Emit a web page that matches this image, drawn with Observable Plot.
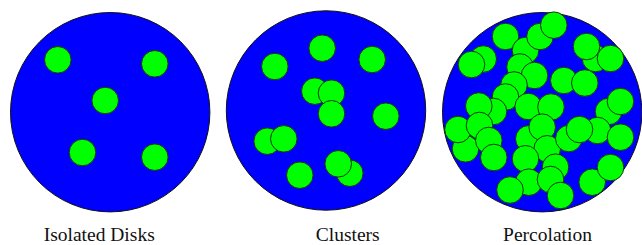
<!DOCTYPE html>
<html>
<head>
<meta charset="utf-8">
<script src="https://cdn.jsdelivr.net/npm/d3@7"></script>
<script src="https://cdn.jsdelivr.net/npm/@observablehq/plot@0.6"></script>
<style>
  html, body { margin: 0; padding: 0; background: #fff; }
  #chart svg { display: block; }
  #chart svg text { font-family: "Liberation Serif", "Times New Roman", serif !important; }
</style>
</head>
<body>
<div id="chart"></div>
<script>
// Panels (large host circles)
const panelNames = ["Isolated Disks", "Clusters", "Percolation"];
const panelX = [109.7, 325.5, 541.7];
const panelY = [111.7, 110, 111.7];
const labelX = [98.7, 347.2, 547];
const labelY = [240, 240, 240];

// Green disks, in drawing order (later ones on top)
const isolatedX = [57.3, 154.3, 104.7, 82, 154.3];
const isolatedY = [59.3, 63.3, 100, 152, 156.7];

const clustersX = [274.3, 321.7, 371.7, 314.3, 331, 331, 385.3, 266.7, 283.3, 299.3, 349.3, 337.7];
const clustersY = [66, 47.7, 59, 90.7, 92.7, 113.3, 115.7, 140.7, 138.3, 174.7, 172.7, 163.3];

const percolationX = [482.7, 471, 505, 525, 539.5, 553.3, 519.5, 534, 513.5, 505, 493, 478.3, 527.7, 550.5, 563.3, 584.3, 595, 586, 610, 608, 620,
  465, 457.5, 479, 488.3, 493.3, 528.3, 541.7, 546.7, 525, 568.3, 597, 579, 620, 555, 528.3, 550, 560, 509.5, 591.7, 610];
const percolationY = [58.5, 64, 36, 50, 36, 24.7, 66.5, 75, 84.5, 96.5, 111, 105.5, 106, 106.5, 80, 82.5, 58, 46, 58, 111, 101,
  148.3, 129, 125, 140, 157, 138.3, 126.7, 148.3, 158.3, 138, 130, 129, 136.7, 166.7, 181.7, 179, 195, 189.5, 181.7, 167];

const panels = panelNames.map((name, i) => ({name, x: panelX[i], y: panelY[i], lx: labelX[i], ly: labelY[i]}));
const disks = [
  ...isolatedX.map((x, i) => ({panel: "Isolated Disks", x, y: isolatedY[i]})),
  ...clustersX.map((x, i) => ({panel: "Clusters", x, y: clustersY[i]})),
  ...percolationX.map((x, i) => ({panel: "Percolation", x, y: percolationY[i]}))
];

const chart = Plot.plot({
  width: 642,
  height: 245,
  margin: 0,
  style: {background: "#fff"},
  x: {domain: [0, 642], range: [0, 642], axis: null},
  y: {domain: [0, 245], range: [0, 245], axis: null},
  marks: [
    Plot.dot(panels, {x: "x", y: "y", r: 99.7, fill: "#0000ff", stroke: "#111", strokeWidth: 1}),
    Plot.dot(disks, {x: "x", y: "y", r: 13.3, fill: "#00ff00", stroke: "#123312", strokeWidth: 1}),
    Plot.text(panels, {x: "lx", y: "ly", text: "name", fontSize: 19.5, fontFamily: "Liberation Serif", fill: "#111", textAnchor: "middle", lineAnchor: "bottom"})
  ]
});
document.getElementById("chart").appendChild(chart);
</script>
</body>
</html>
